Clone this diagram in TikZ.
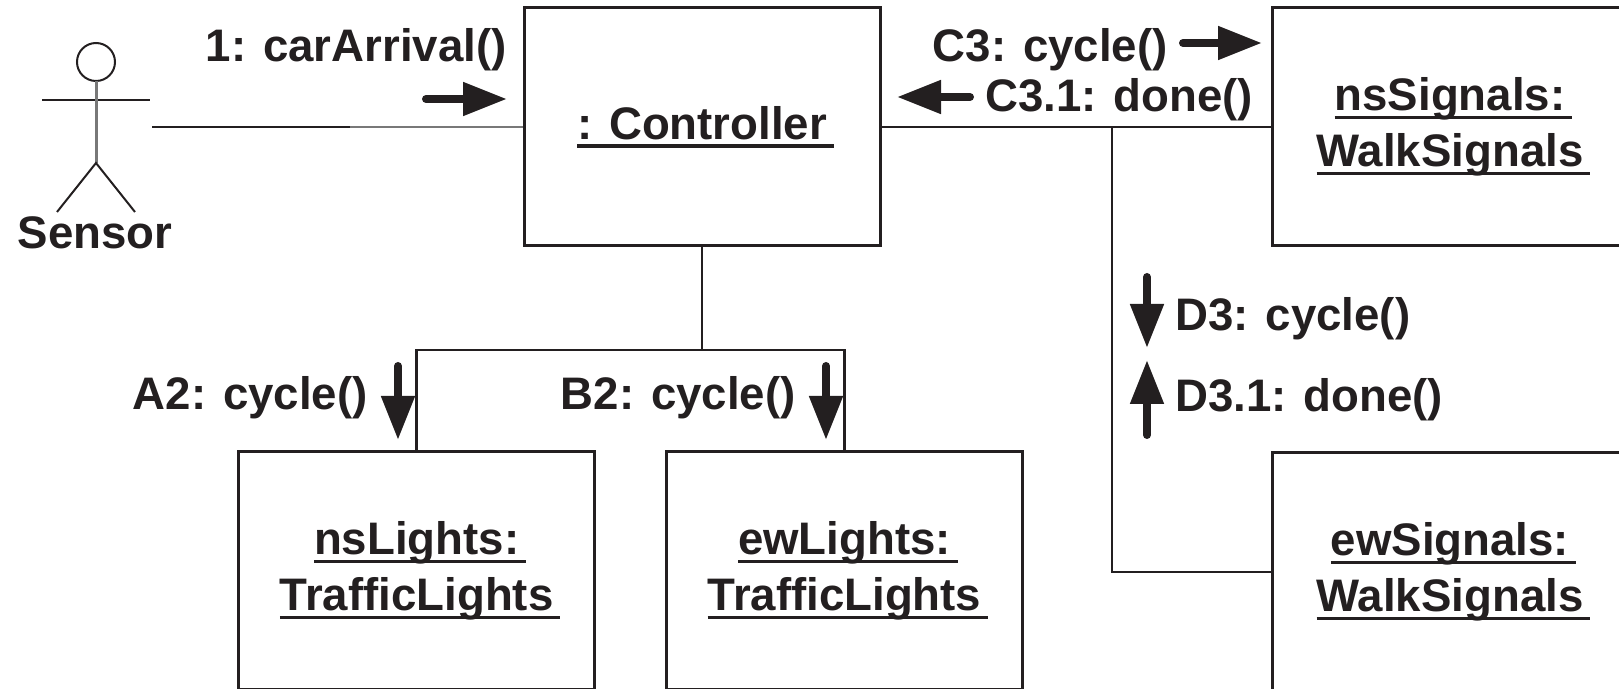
\documentclass[tikz,border=0pt]{standalone}
\usepackage{fontspec}
\setmainfont{Liberation Sans}
\usetikzlibrary{arrows.meta}

\definecolor{ink}{RGB}{35,31,32}
\definecolor{faint}{RGB}{120,120,120}

% underlined object name, line at a fixed depth below the baseline
\newcommand\uname[1]{\setbox0\hbox{#1\hskip0.15em}\rlap{\vrule width\wd0 height-0.11em depth0.18em}#1}

\begin{document}
\begin{tikzpicture}[x=0.5pt,y=-0.5pt,
	every node/.style={font=\fontsize{22.8}{28}\selectfont\bfseries, text=ink, inner sep=0pt},
	obj/.style={draw=ink, line width=1.5pt, minimum width=178pt, minimum height=119pt, align=center},
	link/.style={draw=ink, line width=1.25pt},
	msg/.style={draw=ink, line width=4pt, line cap=round, -{Triangle[length=22pt,width=16pt]}}]

	\useasboundingbox (0,0) rectangle (1619,689);
	\clip (0,0) rectangle (1619,689);

	% ---- objects

	\node[obj] (ctrl) at (702,127) {\uname{: Controller}};
	\node[obj] (nsSig) at (1450,127) {\uname{nsSignals:}\\\uname{WalkSignals}};
	\node[obj] (nsLt) at (416.6,571) {\uname{nsLights:}\\\uname{TrafficLights}};
	\node[obj] (ewLt) at (844.5,571) {\uname{ewLights:}\\\uname{TrafficLights}};
	\node[obj] (ewSig) at (1450,572) {\uname{ewSignals:}\\\uname{WalkSignals}};

	% ---- actor

	\coordinate (head) at (96,62);
	\draw[ink, line width=1pt] (head) circle[radius=9.5pt];
	\draw[ink, line width=1pt] (42,100) -- (150,100);
	\draw[faint, line width=1.5pt] (96,81) -- (96,163);
	\draw[ink, line width=1pt] (57,212) -- (96,163) -- (135,212);
	\node[anchor=base] (sensor) at (95,249) {Sensor};

	% ---- links

	\coordinate (sensEnd) at (152,127);
	\coordinate (sensMid) at (350,127);
	\draw[link] (sensEnd) -- (sensMid);
	\draw[link, draw=faint] (sensMid) -- (ctrl.west);

	\draw[link] (ctrl.east) -- (nsSig.west);
	\coordinate (tap) at (1112,127);
	\draw[link] (tap) |- (ewSig.west);

	\coordinate (fork) at (702,350);
	\draw[link] (ctrl.south) -- (fork);
	\draw[link] (nsLt.north) |- (fork) -| (ewLt.north);

	% ---- messages

	\node[anchor=base east] (m1) at (507,62) {1: carArrival()};
	\node[anchor=base east] (mC3) at (1168,62) {C3: cycle()};
	\node[anchor=base west] (mC31) at (985,112) {C3.1: done()};
	\node[anchor=base west] (mD3) at (1175,331) {D3: cycle()};
	\node[anchor=base west] (mD31) at (1175,412) {D3.1: done()};
	\node[anchor=base east] (mA2) at (368,410) {A2: cycle()};
	\node[anchor=base east] (mB2) at (796,410) {B2: cycle()};

	\foreach \xa/\ya/\xb/\yb in {426/99/507/99, 1183/43/1262/43, 970/97/897/97,
		1147/277/1147/348, 1147/435/1147/360, 398/366/398/440, 826/366/826/440} {
		\draw[msg] (\xa,\ya) -- (\xb,\yb);
	}

\end{tikzpicture}
\end{document}
